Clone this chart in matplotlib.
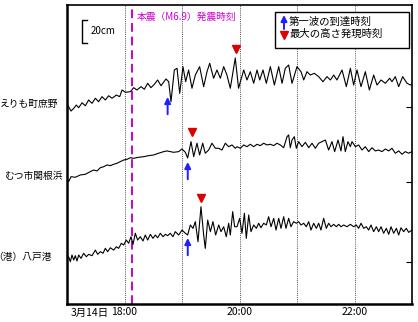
import matplotlib
matplotlib.use('Agg')
from matplotlib import pyplot as plt
from matplotlib.patches import Rectangle
import numpy as np

plt.rcParams['font.family'] = ['Noto Sans CJK JP', 'DejaVu Sans']

W, H = 418, 322


def fx(x):
    return x / W


def fy(y):
    return 1 - y / H


# times are minutes after 3/14 17:00, heights in cm
stations = ['えりも町庶野', 'むつ市関根浜', '（港）八戸港']
baselines = [171.3, 106.1, 36.5]
arrival_min = [105, 126, 126]
peak_min = [176, 130, 140]
quake_min = 68
hour_lines = [60, 120, 180, 240, 300]
hour_ticks = [60, 180, 300]
hour_labels = ['18:00', '20:00', '22:00']

t_erimo = [0.0, 1.7, 4.2, 7.0, 9.7, 12.2, 15.7, 19.1, 22.6, 26.1,
           29.6, 33.0, 36.5, 40.0, 43.5, 47.0, 51.5, 55.0, 57.4, 60.9,
           66.1, 69.6, 73.0, 77.2, 80.7, 84.2, 87.6, 91.1, 94.6, 98.1,
           103.3, 106.1, 108.5, 112.0, 114.8, 117.6, 121.0, 123.8, 126.9, 130.4,
           133.9, 138.4, 142.6, 146.1, 148.9, 153.0, 156.5, 160.0, 163.5, 166.9,
           170.4, 175.6, 179.0,
           184.4, 187.8, 191.3, 194.8, 198.3, 201.1, 204.5, 208.0, 212.2, 216.4,
           220.9, 224.4, 227.8, 231.3, 234.8, 240.0, 244.2, 247.0, 250.4, 253.9,
           258.1, 262.6, 267.1, 271.3, 274.8, 278.3, 281.7, 287.0, 291.5, 295.7,
           299.1, 302.6, 306.8, 311.3, 315.5, 320.0, 323.5, 327.7, 332.2, 336.7,
           339.1, 342.6, 346.1, 350.3, 354.8, 358.3, 360.0]
h_erimo = [1.7, 0.3, -3.5, -1.2, 1.7, -0.6, 3.7, 1.1, 6.1, 3.2,
           7.6, 4.6, 9.0, 6.1, 9.8, 7.6, 10.4, 9.0, 14.8, 12.8,
           13.3, 16.8, 14.8, 17.7, 15.4, 20.6, 16.8, 19.7, 23.5, 18.5,
           24.4, 22.0, 4.6, 32.2, 33.7, 11.9, 35.1, 22.0, 32.2, 16.3,
           27.8, 35.1, 17.7, 30.7, 38.0, 25.0, 32.2, 25.0, 35.1, 27.8,
           16.3, 42.6, 16.3,
           32.2, 23.5, 30.7, 20.6, 32.2, 23.5, 32.2, 20.6, 35.1, 19.1,
           35.1, 20.6, 33.7, 36.5, 20.6, 35.1, 30.7, 23.5, 30.7, 27.8,
           29.3, 26.4, 22.0, 26.4, 23.5, 27.8, 23.5, 32.2, 17.7, 33.7,
           19.1, 32.2, 17.7, 30.7, 14.8, 27.8, 19.1, 23.5, 20.6, 25.0,
           22.0, 26.4, 17.7, 26.4, 20.6, 19.1, 20.0]

t_mutsu = [0.0, 1.7, 4.2, 8.7, 13.9, 19.1, 24.3, 27.8, 31.3, 34.8,
           38.3, 41.7, 45.2, 48.7, 52.2, 55.6, 59.1, 62.6, 66.1, 69.6,
           74.8, 80.0, 85.2, 90.4, 95.6, 100.9, 104.3, 107.8, 111.3, 116.5,
           120.0, 123.5, 125.9, 129.4, 132.2, 135.6, 138.4, 141.6, 144.3, 147.8,
           151.3, 154.8, 158.3, 161.7, 165.2, 168.7, 172.2, 175.6,
           177.4, 180.9, 184.4, 187.8, 191.3, 194.8, 198.3, 201.7, 205.2, 208.7,
           212.2, 215.7, 219.1, 222.6, 226.1, 229.6, 231.3, 233.0, 234.8, 237.2,
           239.3, 241.7, 245.2, 248.7, 252.2, 255.7, 259.1, 262.6, 266.1, 269.6,
           273.0, 276.5, 279.3, 282.8, 285.9, 288.0, 290.4, 293.2, 295.7, 297.4,
           300.9, 304.3, 307.8, 311.3, 314.8, 318.3, 321.7, 325.2, 328.7, 332.2,
           335.7, 339.1, 342.6, 346.1, 349.6, 353.0, 356.5, 360.0]
h_mutsu = [1.7, 0.3, 4.6, 4.1, 6.1, 6.7, 9.0, 10.4, 9.6, 12.4,
           13.3, 14.8, 14.2, 15.4, 16.3, 17.7, 19.1, 19.7, 21.1, 20.6,
           21.5, 22.0, 22.9, 23.5, 25.0, 26.4, 27.0, 26.4, 25.8, 26.4,
           28.7, 25.8, 20.9, 35.1, 22.0, 33.7, 23.5, 33.7, 25.0, 27.8,
           33.7, 29.3, 29.3, 27.8, 33.7, 30.7, 32.2, 29.3,
           30.7, 29.3, 32.2, 30.7, 32.8, 30.7, 32.8, 31.6, 33.7, 32.2,
           32.8, 31.6, 33.7, 32.2, 29.8, 39.4, 40.9, 29.8, 36.5, 39.4,
           29.3, 35.1, 30.7, 34.5, 29.8, 33.7, 29.3, 33.7, 35.1, 36.5,
           27.8, 35.1, 26.4, 36.5, 27.0, 39.4, 26.4, 35.1, 30.7, 35.1,
           30.7, 32.2, 27.8, 30.7, 26.4, 29.8, 27.0, 27.8, 26.4, 28.7,
           27.0, 29.3, 25.0, 27.0, 24.1, 26.4, 25.0, 26.4]

t_hachinohe = [0.0, 1.7, 3.5, 5.2, 7.0, 8.7, 10.4, 12.2, 14.6, 17.4,
               20.2, 22.6, 26.1, 29.6, 32.0, 34.8, 37.6, 40.0, 42.4, 45.2,
               48.7, 51.5, 53.9, 56.7, 59.1, 61.9, 64.3, 66.8, 68.9, 71.3,
               73.7, 76.5, 79.3, 81.7, 84.2, 87.0, 89.7, 92.2, 94.6, 97.4,
               100.2, 102.6, 105.0, 107.8, 110.6, 113.0, 116.5, 120.0, 123.5, 125.9,
               128.7, 131.5, 133.9, 136.7, 139.8, 142.6, 144.3, 146.8, 149.6, 152.3,
               155.1, 158.3, 160.7, 163.5, 166.2, 168.7, 170.4, 172.9, 174.9,
               177.4, 180.2, 182.6, 185.1, 187.1, 189.6, 192.0, 194.8, 197.6, 200.0,
               202.4, 205.2, 208.0, 210.4, 212.9, 215.7, 218.1, 220.9, 223.3, 226.1,
               228.5, 231.3, 233.7, 236.5, 239.3, 241.7, 244.2, 247.0, 249.7, 252.2,
               254.6, 257.4, 260.2, 262.6, 265.0, 267.8, 270.6, 273.0, 275.5, 278.3,
               281.0, 283.5, 285.9, 288.7, 292.2, 295.7, 299.1, 301.9, 304.3, 306.8,
               309.6, 312.3, 314.8, 317.2, 320.0, 322.8, 325.2, 327.7, 330.4, 333.2,
               335.7, 338.1, 340.9, 343.7, 346.1, 348.5, 351.3, 354.1, 356.5, 360.0]
h_hachinohe = [1.7, 4.6, 0.3, 6.1, 1.7, 5.5, 0.9, 6.1, 3.2, 7.6,
               4.6, 6.7, 5.5, 10.4, 6.7, 9.0, 7.6, 11.9, 9.0, 12.4,
               10.4, 13.3, 11.9, 16.3, 14.8, 19.1, 16.3, 22.0, 15.4, 25.0,
               19.1, 22.0, 18.3, 23.5, 19.1, 24.1, 20.6, 23.5, 21.1, 25.0,
               22.0, 24.1, 22.9, 25.0, 22.0, 26.4, 23.5, 27.8, 25.0, 23.5,
               32.2, 29.3, 35.1, 17.7, 48.1, 23.5, 11.9, 36.5, 26.4, 35.1,
               23.5, 32.2, 26.4, 30.7, 22.0, 33.7, 23.5, 43.8, 30.7,
               30.7, 38.0, 25.0, 42.4, 20.6, 40.9, 26.4, 32.2, 29.3, 33.7,
               29.8, 33.7, 32.2, 39.4, 30.7, 38.0, 27.8, 38.0, 29.3, 39.4,
               29.3, 38.0, 30.7, 35.1, 33.7, 35.1, 32.2, 33.7, 30.7, 35.1,
               27.8, 33.7, 29.3, 33.7, 27.8, 38.0, 29.3, 33.7, 30.7, 32.8,
               30.7, 32.8, 30.7, 32.2, 30.7, 32.8, 30.7, 32.2, 29.3, 33.7,
               29.3, 30.7, 27.8, 32.2, 26.4, 30.7, 26.4, 30.7, 25.0, 29.3,
               24.1, 30.7, 25.0, 29.3, 23.5, 29.8, 26.4, 29.3, 25.8, 27.8]

traces = [(t_erimo, h_erimo), (t_mutsu, h_mutsu), (t_hachinohe, h_hachinohe)]

# layout (pixels of the 418x322 picture)
label_right = [58, 63, 52]
label_y = [104, 176, 257]
arrow_top = [8.7, 17.4, 20.9]   # cm above baseline
arrow_len = 15
blue = '#1f1fff'
red = '#dd0000'
magenta = '#cc00cc'
arrow_props = dict(arrowstyle='-|>', color=blue, lw=1.4,
                   mutation_scale=9, shrinkA=0, shrinkB=0)

fig = plt.figure(figsize=(4.18, 3.22), dpi=100)
ax = fig.add_axes([fx(67), fy(304), fx(412) - fx(67), fy(5) - fy(304)])
ax.set_xlim(0, 360)
ax.set_ylim(0, 260)

for h in hour_lines:
    ax.axvline(h, color='0.3', ls=(0, (1, 1.2)), lw=0.7, zorder=1)
ax.axvline(quake_min, color=magenta, ls=(0, (4.5, 2.5)), lw=1.4, zorder=1)

for (t, h), base, ta, tm, at in zip(traces, baselines, arrival_min, peak_min, arrow_top):
    t = np.array(t)
    h = np.array(h)
    ax.plot(t, base + h, color='k', lw=0.8, zorder=3)
    ax.annotate('', xy=(ta, base + at), xytext=(ta, base + at - arrow_len),
                arrowprops=arrow_props, zorder=4)
    near = np.abs(t - tm) <= 3
    ax.plot([tm], [base + h[near].max() + 8], marker='v', color=red,
            ms=6, ls='none', zorder=4)

# 20 cm scale bar
ax.plot([20.9, 15.7, 15.7, 20.9], [247, 247, 227, 227], color='k', lw=1.0)
ax.text(25, 237, '20cm', fontsize=7, va='center', ha='left')

ax.text(quake_min + 5, 250, '本震（M6.9）発震時刻', color=magenta, fontsize=7,
        va='center', ha='left')

ax.set_xticks(hour_ticks)
ax.set_xticklabels(hour_labels)
ax.set_yticks(baselines)
ax.tick_params(axis='x', length=0, labelsize=7.5, pad=2)
ax.tick_params(axis='y', left=False, right=True, direction='in', length=4,
               labelleft=False, labelright=False)
for side in ['left', 'bottom']:
    ax.spines[side].set_linewidth(1.8)
for side in ['top', 'right']:
    ax.spines[side].set_linewidth(1.2)

fig.text(fx(109), fy(313), '3月14日', fontsize=7.5, ha='right', va='center')

for name, xr, yl in zip(stations, label_right, label_y):
    fig.text(fx(xr), fy(yl), name, fontsize=7, ha='right', va='center')

# legend box
ax.add_patch(Rectangle((fx(275), fy(48)), fx(409) - fx(275), fy(12) - fy(48),
                       transform=fig.transFigure, facecolor='white',
                       edgecolor='k', lw=1.0, zorder=5, clip_on=False))
ax.annotate('', xy=(fx(284), fy(15)), xytext=(fx(284), fy(29)),
            xycoords='figure fraction', textcoords='figure fraction',
            arrowprops=arrow_props, annotation_clip=False, zorder=6)
ax.plot([fx(284)], [fy(35)], marker='v', color=red, ms=6, ls='none',
        transform=fig.transFigure, clip_on=False, zorder=6)
ax.text(fx(289), fy(22), '第一波の到達時刻', fontsize=7.5, va='center',
        transform=fig.transFigure, zorder=7)
ax.text(fx(289), fy(34), '最大の高さ発現時刻', fontsize=7.5, va='center',
        transform=fig.transFigure, zorder=7)

fig.savefig('out.png', dpi=100)
